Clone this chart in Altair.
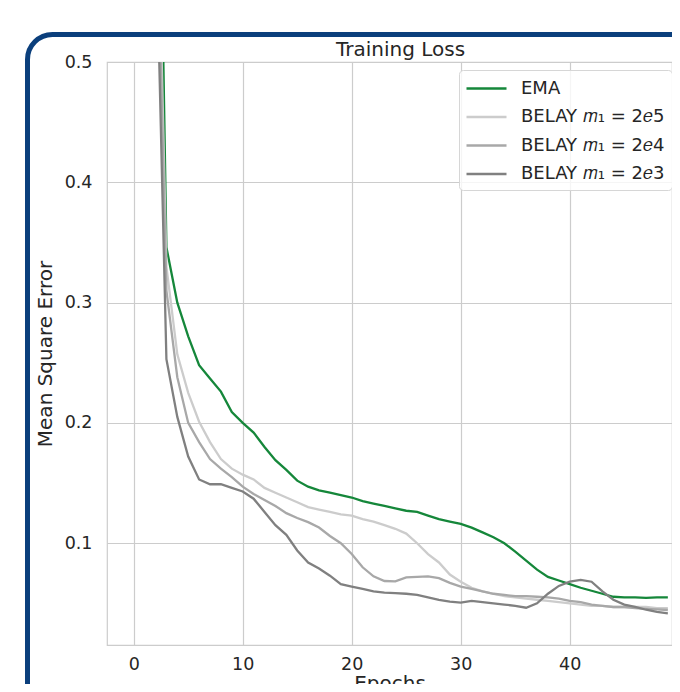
import altair as alt
import pandas as pd

epochs = list(range(50))

series_names = ["EMA", "BELAY 𝑚₁ = 2𝑒5", "BELAY 𝑚₁ = 2𝑒4", "BELAY 𝑚₁ = 2𝑒3"]
series_colors = ["#15873a", "#cccccc", "#a8a8a8", "#808080"]

ema = [2.0, 1.3, 0.896, 0.346, 0.300, 0.272, 0.248, 0.237, 0.226, 0.209,
       0.200, 0.192, 0.180, 0.169, 0.161, 0.152, 0.147, 0.144, 0.142, 0.140,
       0.138, 0.135, 0.133, 0.131, 0.129, 0.127, 0.126, 0.123, 0.120, 0.118,
       0.116, 0.113, 0.109, 0.105, 0.100, 0.093, 0.0855, 0.078, 0.072, 0.069,
       0.066, 0.063, 0.0605, 0.058, 0.0555, 0.055, 0.055, 0.0545, 0.055, 0.055]
belay_2e5 = [1.5, 1.0, 0.725, 0.33, 0.257, 0.225, 0.201, 0.184, 0.170, 0.162,
             0.157, 0.153, 0.146, 0.142, 0.138, 0.134, 0.130, 0.128, 0.126, 0.124,
             0.123, 0.120, 0.118, 0.115, 0.112, 0.108, 0.100, 0.091, 0.084, 0.074,
             0.068, 0.063, 0.060, 0.058, 0.056, 0.055, 0.054, 0.053, 0.052, 0.051,
             0.050, 0.049, 0.048, 0.048, 0.047, 0.047, 0.047, 0.047, 0.046, 0.046]
belay_2e4 = [1.4, 0.95, 0.675, 0.31, 0.238, 0.200, 0.184, 0.170, 0.162, 0.155,
             0.147, 0.141, 0.136, 0.131, 0.125, 0.121, 0.1175, 0.113, 0.106, 0.100,
             0.091, 0.080, 0.0725, 0.0686, 0.0683, 0.0716, 0.072, 0.0725, 0.071, 0.067,
             0.064, 0.062, 0.060, 0.058, 0.057, 0.056, 0.056, 0.0555, 0.055, 0.054,
             0.052, 0.051, 0.049, 0.048, 0.047, 0.047, 0.046, 0.0455, 0.045, 0.0445]
belay_2e3 = [1.3, 0.9, 0.63, 0.253, 0.205, 0.172, 0.153, 0.149, 0.149, 0.146,
             0.143, 0.137, 0.126, 0.115, 0.107, 0.094, 0.084, 0.079, 0.073, 0.066,
             0.064, 0.062, 0.060, 0.059, 0.0585, 0.058, 0.057, 0.055, 0.053, 0.0515,
             0.0506, 0.052, 0.051, 0.050, 0.049, 0.048, 0.0464, 0.050, 0.058, 0.0645,
             0.068, 0.0695, 0.068, 0.060, 0.053, 0.049, 0.047, 0.0447, 0.043, 0.0417]

x_ticks = [0, 10, 20, 30, 40, 50]
y_ticks = [0.1, 0.2, 0.3, 0.4, 0.5]

rows = []
for name, vals in zip(series_names, [ema, belay_2e5, belay_2e4, belay_2e3]):
    for e, v in zip(epochs, vals):
        rows.append({"epoch": e, "loss": v, "series": name})
df = pd.DataFrame(rows)

FONT = "DejaVu Sans"
TXT = "#262626"

lines = alt.Chart(df).mark_line(clip=True, strokeWidth=2.3).encode(
    x=alt.X("epoch:Q",
            scale=alt.Scale(domain=[-2.45, 49.38], nice=False, zero=False),
            axis=alt.Axis(values=x_ticks, format="d", title="Epochs",
                          labelPadding=10, titlePadding=1)),
    y=alt.Y("loss:Q",
            scale=alt.Scale(domain=[0.0154, 0.5], nice=False, zero=False),
            axis=alt.Axis(values=y_ticks, format=".1f", title="Mean Square Error",
                          labelPadding=15, titlePadding=9)),
    color=alt.Color("series:N",
                    scale=alt.Scale(domain=series_names, range=series_colors),
                    sort=series_names,
                    legend=alt.Legend(orient="none", legendX=352, legendY=8, title=None,
                                      symbolType="M-2,0H2", symbolSize=400,
                                      symbolStrokeWidth=2.3, symbolOffset=9,
                                      labelOffset=23,
                                      labelFontSize=18, labelFont=FONT, labelColor=TXT,
                                      padding=7, rowPadding=7.5,
                                      fillColor="rgba(255,255,255,0.8)",
                                      strokeColor="#d6d6d6", cornerRadius=4)),
    detail="series:N",
)

frame = alt.Chart(pd.DataFrame({"k": [0]})).mark_rect(
    cornerRadius=25, filled=False, stroke="#0b3f7c", strokeWidth=5, clip=False
).encode(
    x=alt.value(-79.5), x2=alt.value(700),
    y=alt.value(-27.5), y2=alt.value(650),
)

chart = alt.layer(lines, frame).properties(
    width=565, height=583,
    autosize=alt.AutoSizeParams(type="none"),
    padding={"left": 99, "top": 54, "right": 0, "bottom": 39},
    background="white",
    title=alt.TitleParams("Training Loss", fontSize=20, font=FONT, fontWeight="normal",
                          color=TXT, frame="group", anchor="middle", dx=11, dy=32),
).configure_view(
    stroke="#cccccc", strokeWidth=1.2,
).configure_axis(
    labelFont=FONT, labelFontSize=17.5, labelColor=TXT,
    titleFont=FONT, titleFontSize=20, titleFontWeight="normal", titleColor=TXT,
    grid=True, gridColor="#cccccc", gridWidth=1.2,
    domain=False, ticks=False,
)

chart.save("out.html", embed_options={"renderer": "svg", "actions": False})
